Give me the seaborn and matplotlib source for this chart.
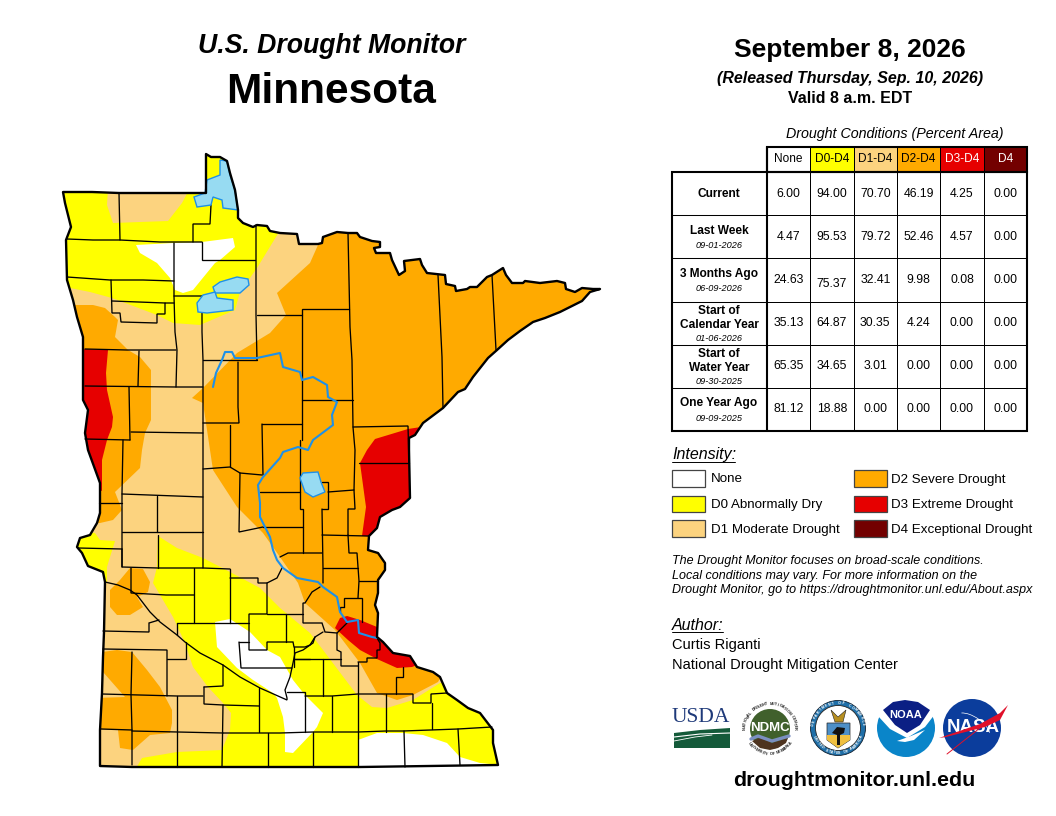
# U.S. Drought Monitor - Minnesota, Sep 8 2026
# map shapes are traced in picture pixels, table comes from the lists below

import numpy as np
import pandas as pd
import matplotlib
matplotlib.use('Agg')
import matplotlib.pyplot as plt
from matplotlib.colors import ListedColormap
from matplotlib.patches import Arc, Circle, Polygon, Rectangle
import seaborn as sns

sns.set_theme(style='white')
plt.rcParams['font.family'] = ['Liberation Sans', 'DejaVu Sans']
plt.rcParams['text.color'] = 'black'

# table data
columns = ['None', 'D0-D4', 'D1-D4', 'D2-D4', 'D3-D4', 'D4']
current = [6.00, 94.00, 70.70, 46.19, 4.25, 0.00]
last_week = [4.47, 95.53, 79.72, 52.46, 4.57, 0.00]
three_months = [24.63, 75.37, 32.41, 9.98, 0.08, 0.00]
calendar_year = [35.13, 64.87, 30.35, 4.24, 0.00, 0.00]
water_year = [65.35, 34.65, 3.01, 0.00, 0.00, 0.00]
one_year = [81.12, 18.88, 0.00, 0.00, 0.00, 0.00]

# colours
c_none, c_d0, c_d1, c_d2, c_d3, c_d4 = '#FFFFFF', '#FFFF00', '#FCD37F', '#FFAA00', '#E60000', '#730000'
head_colors = [c_none, c_d0, c_d1, c_d2, c_d3, c_d4]
head_text = ['black', 'black', 'black', 'black', 'white', 'white']
lake_fill, water_line = '#97DBF2', '#1E90E8'

row_labels = [(['Current'], None), (['Last Week'], '09-01-2026'), (['3 Months Ago'], '06-09-2026'),
              (['Start of', 'Calendar Year'], '01-06-2026'), (['Start of', 'Water Year'], '09-30-2025'),
              (['One Year Ago'], '09-09-2025')]

legend_items = [('None', c_none, 672, 470), ('D0 Abnormally Dry', c_d0, 672, 495.5),
                ('D1 Moderate Drought', c_d1, 672, 520), ('D2 Severe Drought', c_d2, 854, 470),
                ('D3 Extreme Drought', c_d3, 854, 495.5), ('D4 Exceptional Drought', c_d4, 854, 520)]

# state outline
state = [(63,192),(92,192),(119,193),(206,193),(206,154),(211,157),(220,157),(227,161),(230,173),(235,190),(238,210),
         (238,218),(243,223),(253,227),(257,225),(267,226),(270,231),(280,233),(297,234),(299,244),(318,244),(322,243),
         (323,237),(337,232),(348,233),(357,233),(360,237),(372,241),(380,242),(380,247),(374,248),(376,253),(390,253),
         (392,260),(399,275),(405,271),(404,261),(420,259),(422,265),(427,273),(445,275),(446,284),(455,286),(456,291),
         (467,289),(470,287),(477,287),(487,277),(492,275),(503,268),(506,275),(512,283),(523,283),(525,281),(540,283),
         (557,281),(565,283),(566,289),(575,292),(582,288),(593,289),(600,289),(590,292),(582,301),(560,312),(545,318),
         (533,322),(520,331),(508,340),(497,350),(488,358),(473,377),(465,389),(458,392),(443,408),(423,423),(415,435),
         (409,438),(409,450),(410,498),(400,507),(392,510),(380,517),(377,528),(369,536),(368,550),(378,553),(385,563),
         (385,570),(378,580),(378,593),(375,605),(378,613),(377,637),(383,642),(393,653),(410,656),(417,667),(433,672),
         (440,677),(447,693),(457,700),(468,708),(480,713),(493,730),(493,743),(498,765),(360,767),(132,767),(100,766),
         (100,730),(102,693),(103,657),(104,632),(105,582),(103,572),(88,566),(82,553),(77,547),(80,538),(90,535),
         (97,523),(100,513),(100,483),(88,450),(85,433),(88,410),(83,400),(83,353),(83,337),(77,317),(73,300),(67,280),
         (66,240),(71,227),(65,203)]

# drought areas, clipped to the state when drawn
white_north = [(136,245),(173,243),(202,242),(233,238),(235,247),(220,260),(215,263),(193,290),(183,293),(175,290),
               (170,278),(157,263),(140,253)]
white_south = [(215,622),(230,619),(250,632),(267,650),(280,657),(293,680),(305,695),(323,713),(317,727),(313,732),
               (293,753),(285,752),(285,733),(283,717),(277,698),(273,693),(253,680),(237,668),(217,647)]
white_east = [(358,740),(377,733),(403,733),(423,735),(447,743),(460,757),(480,763),(510,766),(510,775),(358,775)]
d1_nw = [(108,188),(190,188),(182,203),(168,221),(140,222),(113,223),(107,205)]
d1_main = [(279,232),(257,268),(240,292),(235,310),(200,325),(173,323),(157,315),(112,298),(90,292),(55,285),(55,528),
           (95,533),(100,540),(115,541),(110,557),(107,567),(107,582),(55,590),(55,775),(132,775),(142,758),(177,752),
           (222,750),(230,730),(231,713),(223,703),(208,687),(193,667),(185,643),(173,617),(153,583),(157,567),(158,536),
           (177,548),(203,558),(230,572),(260,588),(280,608),(310,633),(323,650),(357,695),(372,707),(387,708),(413,700),
           (440,683),(520,680),(620,680),(620,225),(279,225)]
d2_main = [(318,245),(310,263),(277,293),(286,315),(270,333),(237,353),(203,388),(192,398),(203,403),(210,450),(213,470),
           (237,507),(263,533),(280,557),(298,583),(305,603),(335,630),(360,663),(377,693),(397,700),(413,695),(438,682),
           (445,670),(620,670),(620,225),(318,225)]
d2_west = [(55,305),(93,305),(105,308),(115,317),(118,320),(115,337),(128,350),(140,357),(151,370),(151,420),(145,433),
           (142,450),(140,468),(115,492),(122,510),(113,520),(100,523),(55,523)]
d2_sw_upper = [(130,568),(143,569),(150,582),(148,592),(137,597),(143,607),(130,615),(117,615),(110,607),(110,590),(120,580)]
d2_sw_lower = [(95,653),(117,650),(132,652),(147,670),(160,687),(172,710),(172,723),(170,733),(150,735),(133,750),(120,748),
               (118,730),(95,729),(95,698),(125,697),(103,672),(95,672)]
d3_west = [(55,348),(108,350),(106,373),(107,390),(113,417),(112,427),(107,440),(102,460),(102,491),(99,490),(55,490)]
d3_east = [(408,429),(421,427),(440,427),(440,540),(362,536),(366,507),(360,463),(367,450),(375,439)]
d3_south = [(347,616),(360,620),(377,627),(395,640),(430,660),(412,667),(397,668),(377,659),(360,650),(348,640),(335,628),(340,618)]

# water
lake_woods = [(220,160),(227,161),(230,175),(235,190),(238,210),(223,208),(222,200),(213,197),(211,205),(197,207),
              (194,197),(205,193),(207,180),(220,175)]
red_lake_n = [(213,287),(220,282),(237,277),(248,279),(249,285),(240,293),(215,293)]
red_lake_s = [(197,303),(203,295),(215,292),(217,298),(233,300),(233,310),(207,313),(198,312)]
mille_lacs = [(300,478),(303,473),(318,472),(321,482),(325,492),(313,497),(305,492)]
river = [(213,387),(216,373),(222,360),(225,352),(232,352),(235,358),(257,358),(280,353),(283,367),(300,372),(302,380),
         (313,377),(327,385),(328,397),(337,402),(332,415),(333,425),(313,440),(308,450),(298,447),(283,452),(280,458),
         (263,477),(258,485),(260,503),(260,517),(270,537),(273,550),(277,560),(283,568),(297,578),(318,582),(323,587),
         (337,597),(340,612),(347,622),(358,620),(359,633),(372,637),(377,638)]

# county lines
counties = [
    [(119,193),(120,240)], [(67,239),(93,240),(120,240),(160,242),(193,242),(202,242)],
    [(193,242),(193,224),(210,224),(211,205)], [(174,243),(174,296),(175,332),(177,350),(176,387)],
    [(202,242),(202,260),(255,260)], [(256,225),(256,315),(257,360)], [(67,277),(110,280),(143,280),(174,281)],
    [(111,280),(112,313),(120,313),(121,322),(157,323),(157,314),(165,314),(165,303),(174,303)], [(112,301),(165,303)],
    [(174,296),(202,296),(202,332),(203,360),(203,423),(203,469),(203,568)],
    [(257,315),(302,315),(302,309),(349,309)], [(85,349),(127,350),(176,350)], [(139,351),(138,386)],
    [(85,386),(176,387),(203,387)], [(129,387),(130,440)], [(85,439),(130,440)], [(131,432),(203,433)],
    [(123,440),(122,493),(122,567)], [(203,360),(257,360)], [(238,362),(238,407),(239,423),(203,423)],
    [(302,315),(302,440)], [(302,400),(353,400)], [(230,425),(230,467)], [(262,424),(302,424)], [(262,424),(263,475)],
    [(348,233),(350,327),(352,360),(353,427),(355,450),(354,490),(355,509),(348,509),(348,535)],
    [(438,275),(442,357),(443,408)], [(492,275),(496,350)], [(353,427),(408,426),(409,463)], [(359,463),(409,463)],
    [(322,535),(368,536)], [(322,509),(323,568),(323,583)], [(322,482),(328,482),(328,509),(322,509)], [(328,492),(354,490)],
    [(300,440),(300,509),(303,509),(303,553)], [(260,492),(300,492)], [(263,527),(303,527)], [(280,557),(288,553),(322,553)],
    [(348,535),(349,553),(357,553),(359,581),(358,598)], [(323,568),(358,568)], [(359,581),(378,581)],
    [(344,607),(344,598),(362,598),(362,622)], [(344,607),(340,607),(340,612)],
    [(320,587),(312,592),(305,603),(303,603),(303,623),(322,623),(325,632),(337,633),(347,623)],
    [(337,633),(337,650),(341,652),(341,666),(358,666)], [(358,662),(358,767)],
    [(358,662),(367,662),(367,658),(377,658),(377,650),(380,650),(380,643),(377,638)],
    [(403,667),(403,677),(396,677),(396,694)], [(305,696),(332,696),(358,694),(386,694),(413,694),(413,703),(431,703),(431,694),(447,693)],
    [(386,694),(386,732)], [(432,703),(432,729)], [(223,733),(280,733),(313,732),(358,732),(386,731),(403,731),(458,729),(492,727)],
    [(404,731),(405,767)], [(458,729),(460,765)], [(332,696),(332,732)], [(287,692),(305,692),(305,732)], [(313,732),(313,767)],
    [(323,659),(323,696)], [(295,659),(323,659),(341,659)],
    [(323,632),(315,637),(313,643),(303,650),(295,653),(293,663),(290,677),(285,690),(287,698),(287,700),(260,688),(240,677),
     (223,665),(200,653),(185,642),(177,635),(160,622),(150,612),(137,595),(130,590),(118,585),(105,582)],
    [(99,503),(122,503)], [(122,494),(203,497)], [(157,496),(157,532)], [(122,532),(203,532)],
    [(203,469),(230,467),(240,473),(262,475)], [(240,473),(239,532),(263,527)], [(78,548),(122,549)],
    [(122,549),(122,567),(158,568),(203,568),(230,569)], [(158,535),(158,568)], [(131,568),(131,593),(166,595),(194,595)],
    [(194,568),(194,623)], [(177,623),(194,623),(230,623)], [(230,569),(230,623)],
    [(230,578),(258,578),(258,583),(267,583),(277,578),(282,568)],
    [(267,583),(267,614),(249,614),(249,650),(267,650),(267,642),(293,642),(294,647),(305,647),(310,645),(315,637)],
    [(230,623),(249,623)], [(267,614),(303,614)], [(286,614),(286,642)], [(239,642),(249,642)],
    [(239,642),(241,668),(292,668)], [(177,623),(177,635)], [(159,620),(149,623),(149,632),(103,631)],
    [(103,649),(167,650),(167,696)], [(167,659),(186,659),(186,642)], [(132,652),(131,695),(132,730),(132,765)],
    [(102,694),(177,696),(203,696)], [(177,696),(177,767)], [(101,729),(132,730)], [(132,731),(223,733)],
    [(204,687),(223,686),(223,665)], [(204,687),(204,704),(223,705),(259,706)], [(223,705),(222,767)],
    [(259,688),(259,732)], [(268,733),(268,767)], [(294,647),(294,667)], [(294,659),(310,659)],
]

fig = plt.figure(figsize=(10.56, 8.16), dpi=100, facecolor='white')
ax = fig.add_axes([0, 0, 1, 1])
ax.set_xlim(0, 1056)
ax.set_ylim(816, 0)
ax.axis('off')


def pixel_axes(x0, y0, x1, y1):
    # axes placed by picture pixels
    return fig.add_axes([x0 / 1056, 1 - y1 / 816, (x1 - x0) / 1056, (y1 - y0) / 816])


def ring_text(s, cx, cy, r, start, end, size, color, top=True):
    # small lettering around a seal
    for ch, ang in zip(s, np.linspace(start, end, len(s))):
        a = np.radians(ang)
        rot = ang - 90 if top else ang + 90
        ax.text(cx + r * np.cos(a), cy - r * np.sin(a), ch, fontsize=size, color=color, fontweight='bold',
                ha='center', va='center', rotation=rot, zorder=4)


# map
outline = Polygon(state, closed=True, fc=c_d0, ec='none', zorder=1)
ax.add_patch(outline)
layers = [(white_north, c_none), (white_south, c_none), (white_east, c_none), (d1_nw, c_d1), (d1_main, c_d1),
          (d2_main, c_d2), (d2_west, c_d2), (d2_sw_upper, c_d2), (d2_sw_lower, c_d2),
          (d3_west, c_d3), (d3_east, c_d3), (d3_south, c_d3)]
for i, (shape, col) in enumerate(layers):
    p = Polygon(shape, closed=True, fc=col, ec='none', zorder=2 + i * 0.01)
    ax.add_patch(p)
    p.set_clip_path(outline)

for line in counties:
    xs, ys = zip(*line)
    ax.plot(xs, ys, color='black', lw=0.95, zorder=3, solid_joinstyle='miter')

for shape in [lake_woods, red_lake_n, red_lake_s, mille_lacs]:
    ax.add_patch(Polygon(shape, closed=True, fc=lake_fill, ec=water_line, lw=1.0, zorder=4))
xs, ys = zip(*river)
ax.plot(xs, ys, color=water_line, lw=1.5, zorder=4)
ax.add_patch(Polygon(state, closed=True, fc='none', ec='black', lw=1.7, zorder=5, joinstyle='round'))

# titles
ax.text(332, 46, 'U.S. Drought Monitor', ha='center', va='center', fontsize=19.2, fontweight='bold', style='italic')
ax.text(331, 92, 'Minnesota', ha='center', va='center', fontsize=30.5, fontweight='bold')
ax.text(850, 50, 'September 8, 2026', ha='center', va='center', fontsize=19, fontweight='bold')
ax.text(850, 78, '(Released Thursday, Sep. 10, 2026)', ha='center', va='center', fontsize=11.5, fontweight='bold', style='italic')
ax.text(850, 98.5, 'Valid 8 a.m. EDT', ha='center', va='center', fontsize=11.5, fontweight='bold')
ax.text(895, 134, 'Drought Conditions (Percent Area)', ha='center', va='center', fontsize=10.3, style='italic')

# table body and header drawn with seaborn heatmaps
df_table = pd.DataFrame([current, last_week, three_months, calendar_year, water_year, one_year], columns=columns)
ax_body = pixel_axes(767, 172, 1027, 431)
sns.heatmap(df_table, ax=ax_body, cmap=ListedColormap(['white']), cbar=False, annot=True, fmt='.2f',
            annot_kws={'fontsize': 8.8, 'color': 'black'}, linewidths=0.45, linecolor='black',
            xticklabels=False, yticklabels=False)
ax_body.texts[13].set_y(2.6)  # this one sits a bit low in the source

ax_head = pixel_axes(767, 147, 1027, 172)
sns.heatmap(np.arange(6).reshape(1, 6), ax=ax_head, cmap=ListedColormap(head_colors), cbar=False, vmin=-0.5, vmax=5.5,
            annot=np.array([columns]), fmt='', annot_kws={'fontsize': 8.6}, linewidths=0.45, linecolor='black',
            xticklabels=False, yticklabels=False)
for t, col in zip(ax_head.texts, head_text):
    t.set_color(col)

rows_y = np.linspace(172, 431, 7)
for y in rows_y[1:-1]:
    ax.plot([672, 767], [y, y], color='black', lw=0.75, zorder=6)
ax.add_patch(Rectangle((767, 147), 260, 25, fc='none', ec='black', lw=1.5, zorder=6))
ax.add_patch(Rectangle((672, 172), 355, 259, fc='none', ec='black', lw=1.5, zorder=6))
ax.plot([767, 767], [147, 431], color='black', lw=1.5, zorder=6)
ax.set_zorder(5)
ax.patch.set_alpha(0)

# row labels, one block per row
for i, (names, date) in enumerate(row_labels):
    mid = (rows_y[i] + rows_y[i + 1]) / 2
    if len(names) == 2:
        ax.text(719, mid - 12, names[0], ha='center', va='center', fontsize=8.6, fontweight='bold')
        ax.text(719, mid + 1.5, names[1], ha='center', va='center', fontsize=8.6, fontweight='bold')
        ax.text(719, mid + 15, date, ha='center', va='center', fontsize=6.6, style='italic')
    elif date:
        ax.text(719, mid - 6, names[0], ha='center', va='center', fontsize=8.6, fontweight='bold')
        ax.text(719, mid + 9, date, ha='center', va='center', fontsize=6.6, style='italic')
    else:
        ax.text(719, mid, names[0], ha='center', va='center', fontsize=8.6, fontweight='bold')

# legend
ax.text(672, 455, 'Intensity:', ha='left', va='center', fontsize=11.5, style='italic')
ax.plot([672, 735], [462, 462], color='black', lw=0.7)
for label, col, x, y in legend_items:
    ax.add_patch(Rectangle((x, y), 33, 16.5, fc=col, ec='#444444', lw=0.9))
    ax.text(x + (39 if x < 800 else 37), y + 9.5, label, ha='left', va='center', fontsize=9.6)

note = ['The Drought Monitor focuses on broad-scale conditions.',
        'Local conditions may vary. For more information on the',
        'Drought Monitor, go to https://droughtmonitor.unl.edu/About.aspx']
for i, s in enumerate(note):
    ax.text(672, 561 + i * 14.5, s, ha='left', va='center', fontsize=9.0, style='italic')

ax.text(672, 625, 'Author:', ha='left', va='center', fontsize=11.5, style='italic')
ax.plot([672, 723], [632, 632], color='black', lw=0.7)
ax.text(672, 645.5, 'Curtis Riganti', ha='left', va='center', fontsize=10.5)
ax.text(672, 664.5, 'National Drought Mitigation Center', ha='left', va='center', fontsize=10.5)
ax.text(854, 781, 'droughtmonitor.unl.edu', ha='center', va='center', fontsize=15.4, fontweight='bold')

# logos, only rough shapes
# USDA
ax.text(701, 718, 'USDA', ha='center', va='center', fontsize=15.5, family='Liberation Serif', color='#1F3A7A')
ax.add_patch(Polygon([(674,733),(700,730),(730,728),(730,748),(674,748)], fc='#145A3A', ec='none'))
ax.plot([674, 700, 730], [737, 734, 733], color='white', lw=0.8)
ax.plot([674, 695, 712], [741, 737, 735], color='white', lw=0.6)

# NDMC
ax.add_patch(Circle((770, 729), 20, fc='#40602C', ec='none'))
ax.add_patch(Polygon([(752,741),(760,738),(772,743),(788,738),(786,743),(778,748),(770,750),(760,748)], fc='#4E3420', ec='none', zorder=2))
ax.plot([751, 758, 772, 789], [739, 736, 741, 736], color='#7B8FC0', lw=2.4, zorder=3)
ax.text(770, 728, 'NDMC', ha='center', va='center', fontsize=9.5, fontweight='bold', color='white')
ring_text('NATIONAL DROUGHT MITIGATION CENTER', 770, 729, 25, 178, 2, 2.8, '#222222')
ring_text('UNIVERSITY OF NEBRASKA', 770, 729, 25, 215, 325, 2.8, '#222222', top=False)

# Commerce
ax.add_patch(Circle((838, 728), 27.5, fc='#1F6FA8', ec='#102030', lw=0.6))
ax.add_patch(Circle((838, 728), 22.5, fc='white', ec='#222222', lw=0.6))
ring_text('DEPARTMENT OF COMMERCE', 838, 728, 25, 172, 8, 2.6, 'white')
ring_text('UNITED STATES OF AMERICA', 838, 728, 25, 200, 340, 2.6, 'white', top=False)
ax.add_patch(Polygon([(827,723),(850,723),(850,740),(838,748),(827,740)], fc='#4D8FC7', ec='#222222', lw=0.5, zorder=2))
ax.add_patch(Polygon([(827,735),(850,735),(850,740),(838,748),(827,740)], fc='#F0C040', ec='none', zorder=2))
ax.add_patch(Polygon([(831,710),(838,717),(846,710),(843,722),(835,722)], fc='#B89020', ec='#222222', lw=0.4, zorder=2))
ax.add_patch(Polygon([(832,733),(837,727),(845,728),(844,733),(840,735),(840,745),(837,745),(837,735)], fc='#111111', ec='none', zorder=3))

# NOAA
ax.add_patch(Circle((906, 728), 29, fc='#0A85C9', ec='none'))
ax.add_patch(Polygon([(870,690),(945,690),(945,703),(935,714),(925,727),(907,738),(890,729),(878,716),(870,705)], fc='white', ec='none', zorder=2))
ax.add_patch(Polygon([(883,710),(893,702),(905,700),(918,702),(930,710),(920,725),(907,733),(895,725)], fc='#0B1F84', ec='none', zorder=3))
ax.text(906, 715, 'NOAA', ha='center', va='center', fontsize=8, fontweight='bold', color='white', zorder=4)
ax.add_patch(Polygon([(897,741),(911,736),(925,730),(914,740),(905,742)], fc='white', ec='none', zorder=4))

# NASA
ax.add_patch(Circle((972, 728), 29, fc='#0B3D9C', ec='none'))
ax.add_patch(Arc((972, 728), 42, 22, angle=35, theta1=200, theta2=340, color='white', lw=0.5, zorder=3))
ax.text(973, 728, 'NASA', ha='center', va='center', fontsize=13.5, fontweight='bold', color='white', zorder=3)
ax.add_patch(Polygon([(939,738),(980,724),(1000,713),(1008,705),(1000,720),(985,727),(946,737)], fc='#E0102A', ec='none', zorder=4))
ax.plot([947, 985], [754, 724], color='#E0102A', lw=0.7, zorder=4)

fig.savefig('out.png', dpi=100, facecolor='white')
